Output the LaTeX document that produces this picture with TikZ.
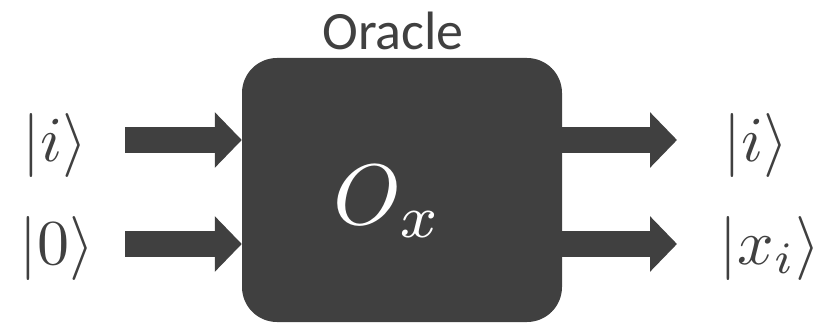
\documentclass[tikz,border=0pt]{standalone}
\usepackage{fontspec}
\newfontfamily\labelfont{Carlito}
\usetikzlibrary{arrows.meta}
\definecolor{boxgray}{RGB}{64,64,64}
\tikzset{
  blackbox/.style={fill=boxgray, rounded corners=35pt, minimum width=320pt,
    minimum height=264pt, inner sep=0pt, draw=none},
  ket/.style={anchor=base, text=boxgray, inner sep=0pt, scale=6.4},
  bigarrow/.style={draw=boxgray, line width=26pt, line cap=butt,
    -{Triangle[length=27pt, width=54pt, fill=boxgray]}},
}
\begin{document}
\begin{tikzpicture}[x=1pt, y=-1pt]
  \useasboundingbox (0,0) rectangle (825,326);
  % the oracle box and its labels
  \node[blackbox] (oracle) at (402,190) {};
  \node[anchor=base, text=boxgray, inner sep=0pt,
    font=\labelfont\fontsize{54}{60}\selectfont] (title) at (393,50) {Oracle};
  \node[anchor=base, text=white, inner sep=0pt, scale=8.6] (op) at (388,225) {$O_x$};
  % input and output states
  \node[ket] (inI)  at (55,161)  {$|i\rangle$};
  \node[ket] (inZ)  at (57,264)  {$|0\rangle$};
  \node[ket] (outI) at (756,161) {$|i\rangle$};
  \node[ket] (outX) at (770,264) {$|x_i\rangle$};
  % arrow tails
  \coordinate (tailA) at (125,140);
  \coordinate (tailB) at (125,244);
  \coordinate (headC) at (677,140);
  \coordinate (headD) at (677,244);
  % arrows into and out of the oracle
  \draw[bigarrow] (tailA) -- (tailA -| oracle.west);
  \draw[bigarrow] (tailB) -- (tailB -| oracle.west);
  \draw[bigarrow] (headC -| oracle.east) -- (headC);
  \draw[bigarrow] (headD -| oracle.east) -- (headD);
\end{tikzpicture}
\end{document}
